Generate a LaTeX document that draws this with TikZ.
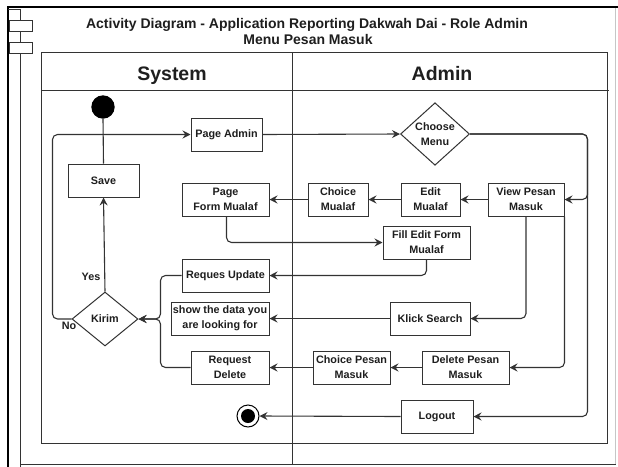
\documentclass[tikz,border=0pt]{standalone}
\usepackage{fontspec}
\setmainfont{Liberation Sans}
\usetikzlibrary{shapes.geometric,arrows.meta}
\definecolor{boxc}{HTML}{333333}
\definecolor{linec}{HTML}{333333}
\definecolor{txtc}{HTML}{1E1E1E}
\newcommand\boxfont{\fontsize{10.8}{15}\selectfont\bfseries}
\newcommand\lanefont{\fontsize{19.5}{22}\selectfont\bfseries}
\newcommand\titlefont{\fontsize{14}{15.5}\selectfont\bfseries}
\begin{document}
\begin{tikzpicture}[x=1pt,y=-1pt,
  box/.style={draw=boxc, line width=1pt, fill=white, minimum height=33pt,
    inner sep=1pt, align=center, font=\boxfont, text=txtc},
  dec/.style={draw=boxc, line width=1pt, diamond, inner sep=0pt,
    align=center, font=\boxfont, text=txtc, fill=white},
  flow/.style={draw=linec, line width=1.1pt, rounded corners=5pt},
  arr/.style={flow, -{Stealth[length=8pt,width=8pt,inset=2.8pt]}},
  lbl/.style={font=\boxfont, text=txtc, inner sep=0pt},
]
\useasboundingbox (0,0) rectangle (618,466);

% component frame
\draw[line width=2pt, black] (8,467) -- (8,7) -- (618,7);
\draw[gray!45, line width=0.8pt] (615.5,8) -- (615.5,464);
\draw[linec, line width=1pt] (20,9) -- (20,467);
\draw[linec, line width=1pt] (8,9.3) -- (20,9.3);
\draw[linec, line width=1pt] (20,464) -- (615.5,464);
\draw[linec, line width=1pt, fill=white] (9,20) rectangle (32,31);
\draw[linec, line width=1pt, fill=white] (9,42) rectangle (32,53);

% title
\node[anchor=base, font=\titlefont, text=txtc, inner sep=0pt] (title1) at (307,28.5)
  {Activity Diagram - Application Reporting Dakwah Dai - Role Admin};
\node[anchor=base, font=\titlefont, text=txtc, inner sep=0pt] (title2) at (308,44.5)
  {Menu Pesan Masuk};

% pool and lanes
\draw[boxc, line width=1pt] (41,52) rectangle (607,443);
\draw[boxc, line width=1pt] (41,90) -- (609,90);
\draw[boxc, line width=1pt] (292.5,52) -- (292.5,465);
\node[anchor=base, font=\lanefont, text=txtc, inner sep=0pt] (lanesys) at (172,80.5) {System};
\node[anchor=base, font=\lanefont, text=txtc, inner sep=0pt] (laneadm) at (442,80.5) {Admin};

% system lane
\node[circle, fill=black, minimum size=23.4pt, inner sep=0pt] (start) at (103,107) {};
\node[box, minimum width=71pt] (save) at (103.5,180.5) {Save};
\node[box, minimum width=71pt] (pageadmin) at (226.5,134.5) {Page Admin};
\node[box, minimum width=87pt] (pageform) at (225.5,199.5) {Page\\Form Mualaf};
\node[box, minimum width=87pt] (requpdate) at (225.5,275.5) {Reques Update};
\node[box, minimum width=98pt] (showdata) at (220,318.5) {show the data you\\are looking for};
\node[box, minimum width=78pt] (reqdelete) at (230,367.5) {Request\\Delete};
\node[dec, minimum width=66pt, minimum height=54pt] (kirim) at (105,319) {Kirim};
\node[circle, draw=black, line width=1pt, fill=white, minimum size=22pt, inner sep=0pt] (finish) at (248,416) {};
\fill[black] (finish.center) circle (7pt);

% admin lane
\node[dec, minimum width=69pt, minimum height=58pt] (choose) at (435,134) {Choose\\Menu};
\node[box, minimum width=60pt] (choicemualaf) at (338,199.5) {Choice\\Mualaf};
\node[box, minimum width=59pt] (editmualaf) at (430.5,199.5) {Edit\\Mualaf};
\node[box, minimum width=76pt] (viewpesan) at (526,199.5) {View Pesan\\Masuk};
\node[box, minimum width=87pt] (filledit) at (426.5,242.5) {Fill Edit Form\\Mualaf};
\node[box, minimum width=80pt] (klick) at (430,318.5) {Klick Search};
\node[box, minimum width=77pt] (choicepesan) at (351.5,367.5) {Choice Pesan\\Masuk};
\node[box, minimum width=87pt] (deletepesan) at (465.5,367.5) {Delete Pesan\\Masuk};
\node[box, minimum width=72pt] (logout) at (437,416.5) {Logout};

% connectors
\draw[flow] (save.north) -- (start.south);
\draw[arr] (kirim.north) -- (save.south);
\node[lbl] (yes) at (91,277) {Yes};
\draw[arr] (kirim.west) -- ++(-19,0) |- (pageadmin.west);
\node[lbl] (no) at (69,326) {No};
\draw[arr] (pageadmin.east) -- (choose.west);
\draw[arr] (choose.east) -- ++(117.5,0) |- (viewpesan.east);
\draw[arr] (choose.east) -- ++(117.5,0) |- (logout.east);
\draw[arr] (viewpesan.west) -- (editmualaf.east);
\draw[arr] (editmualaf.west) -- (choicemualaf.east);
\draw[arr] (choicemualaf.west) -- (pageform.east);
\draw[arr] ([xshift=1pt]pageform.south) |- (filledit.west);
\draw[arr] (filledit.south) |- (requpdate.east);
\draw[arr] (viewpesan.south) |- (klick.east);
\draw[arr] (viewpesan.south east) |- (deletepesan.east);
\draw[arr] (klick.west) -- (showdata.east);
\draw[arr] (deletepesan.west) -- (choicepesan.east);
\draw[arr] (choicepesan.west) -- (reqdelete.east);
\draw[arr] (logout.west) -- (finish.east);
\draw[arr] (requpdate.west) -- ++(-21,0) |- (kirim.east);
\draw[arr] (reqdelete.west) -- ++(-30,0) |- (kirim.east);
\end{tikzpicture}
\end{document}
